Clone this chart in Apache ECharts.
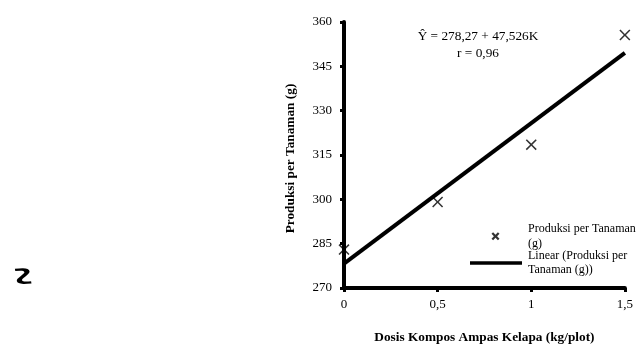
<!DOCTYPE html>
<html>
<head>
<meta charset="utf-8">
<script src="https://cdn.jsdelivr.net/npm/echarts@6/dist/echarts.min.js"></script>
<style>
  html, body { margin: 0; padding: 0; background: #fff; }
  #chart { width: 636px; height: 349px; }
</style>
</head>
<body>
<div id="chart"></div>
<script>
// ---- data ----
const doses = [0, 0.5, 1, 1.5];                  // Dosis Kompos Ampas Kelapa (kg/plot)
const production = [283, 299.1, 318.5, 355.6];   // Produksi per Tanaman (g)
const trendX = [0, 1.5];
const trendY = [278.27, 349.56];                 // Ŷ = 278,27 + 47,526K
const yTicks = [270, 285, 300, 315, 330, 345, 360];
const xTicks = [0, 0.5, 1, 1.5];
const equationLines = ['Ŷ = 278,27 + 47,526K', 'r = 0,96'];
const seriesNames = ['Produksi per Tanaman (g)', 'Linear (Produksi per Tanaman (g))'];
const legendLabels = ['Produksi per Tanaman\n(g)', 'Linear (Produksi per\nTanaman (g))'];

const FONT = "'Liberation Serif', 'Times New Roman', serif";
const xThin = 'path://M0,10L10,0L50,40L90,0L100,10L60,50L100,90L90,100L50,60L10,100L0,90L40,50Z';
const xThick = 'path://M0,20L20,0L50,30L80,0L100,20L70,50L100,80L80,100L50,70L20,100L0,80L30,50Z';
const fmt = v => String(v).replace('.', ',');

const chart = echarts.init(document.getElementById('chart'), null, { renderer: 'canvas' });
chart.setOption({
  animation: false,
  backgroundColor: '#ffffff',
  textStyle: { fontFamily: FONT, color: '#000' },
  grid: { left: 344, right: 10, top: 22, bottom: 56, containLabel: false },
  xAxis: {
    type: 'value',
    min: xTicks[0], max: xTicks[xTicks.length - 1], interval: xTicks[1] - xTicks[0],
    name: 'Dosis Kompos Ampas Kelapa (kg/plot)',
    nameLocation: 'middle', nameGap: 43,
    nameTextStyle: { fontFamily: FONT, fontWeight: 'bold', fontSize: 13.3, color: '#000' },
    axisLine: { lineStyle: { color: '#000', width: 4 } },
    axisTick: { show: true, length: 4, lineStyle: { color: '#000', width: 3 } },
    axisLabel: { fontFamily: FONT, fontSize: 13, color: '#000', margin: 10, formatter: fmt },
    splitLine: { show: false }
  },
  yAxis: {
    type: 'value',
    min: yTicks[0], max: yTicks[yTicks.length - 1], interval: yTicks[1] - yTicks[0],
    name: 'Produksi per Tanaman (g)',
    nameLocation: 'middle', nameGap: 47,
    nameTextStyle: { fontFamily: FONT, fontWeight: 'bold', fontSize: 13.3, color: '#000', padding: [0, 7, 0, 0] },
    axisLine: { lineStyle: { color: '#000', width: 4 } },
    axisTick: { show: true, length: 4, lineStyle: { color: '#000', width: 3 } },
    axisLabel: { fontFamily: FONT, fontSize: 13, color: '#000', margin: 12, formatter: fmt },
    splitLine: { show: false }
  },
  legend: [
    {
      data: [{ name: seriesNames[0], icon: xThick }],
      selectedMode: false, orient: 'vertical', padding: 0,
      left: 491.5, top: 214.5,
      itemWidth: 8, itemHeight: 8,
      formatter: () => legendLabels[0],
      textStyle: { fontFamily: FONT, fontSize: 12, color: '#000', lineHeight: 14.5, padding: [14.5, 0, 0, 23.5] }
    },
    {
      data: [{ name: seriesNames[1], icon: 'rect' }],
      selectedMode: false, orient: 'vertical', padding: 0,
      left: 470, top: 241.25,
      itemWidth: 52, itemHeight: 3.5,
      itemStyle: { color: '#000' },
      formatter: () => legendLabels[1],
      textStyle: { fontFamily: FONT, fontSize: 12, color: '#000', lineHeight: 14.5, padding: [14.5, 0, 0, 1] }
    }
  ],
  graphic: [
    { type: 'text', x: 478, y: 36.7, style: { text: equationLines[0], align: 'center', verticalAlign: 'middle', font: "13.3px 'Liberation Serif'", fill: '#000' } },
    { type: 'text', x: 478, y: 53.3, style: { text: equationLines[1], align: 'center', verticalAlign: 'middle', font: "13.3px 'Liberation Serif'", fill: '#000' } },
    { type: 'text', x: 18, y: 277, rotation: -Math.PI * 0.45, scaleY: 2.2, style: { text: '~', align: 'center', verticalAlign: 'middle', font: "bold 34px 'Liberation Serif'", fill: '#000' } }
  ],
  series: [
    {
      name: seriesNames[0],
      type: 'scatter',
      data: doses.map((d, i) => [d, production[i]]),
      symbol: xThin, symbolSize: 11,
      itemStyle: { color: '#000' },
      z: 3
    },
    {
      name: seriesNames[1],
      type: 'line',
      data: trendX.map((d, i) => [d, trendY[i]]),
      symbol: 'none', showSymbol: false,
      lineStyle: { color: '#000', width: 4 },
      itemStyle: { color: '#000' },
      z: 2
    }
  ]
});
</script>
</body>
</html>
